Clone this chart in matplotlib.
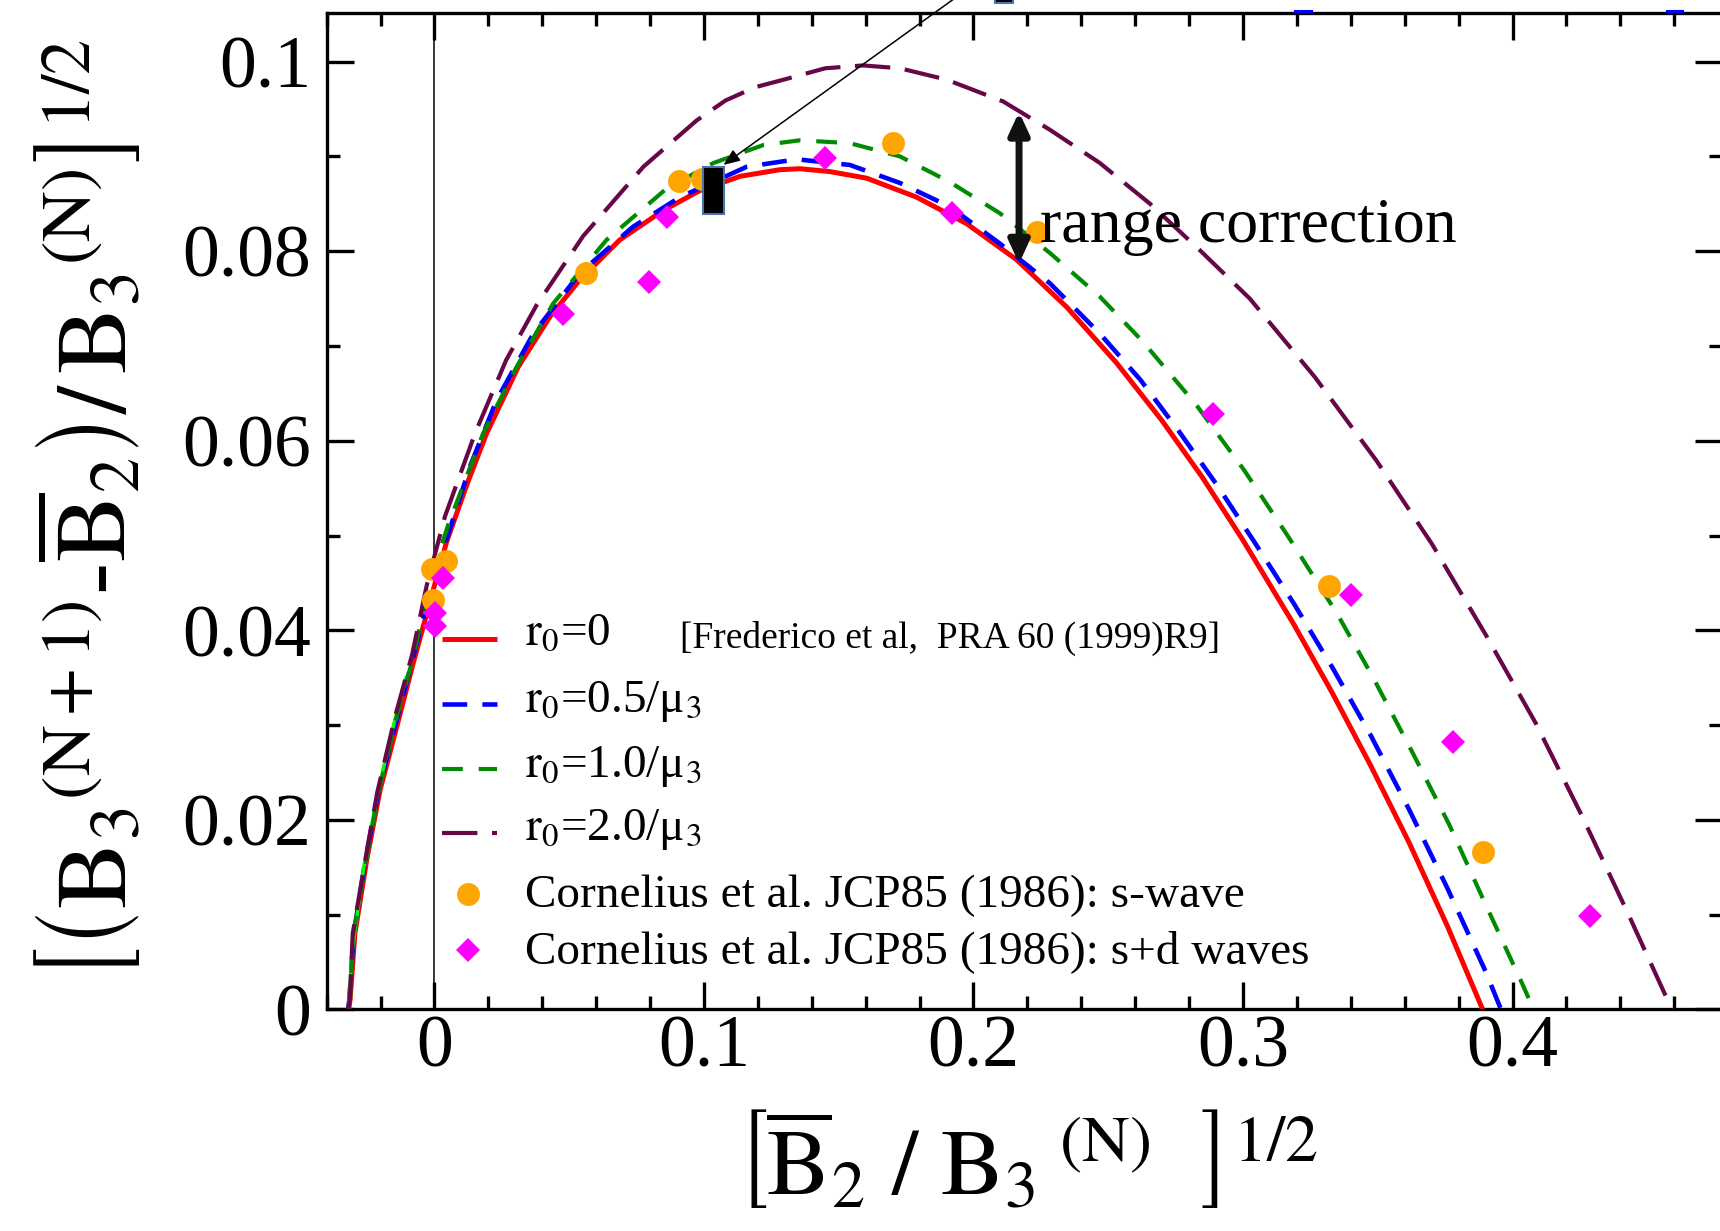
import numpy as np
import matplotlib
matplotlib.use('Agg')
from matplotlib import pyplot as plt
from matplotlib.patches import Rectangle, FancyArrowPatch
from matplotlib.lines import Line2D
from matplotlib.ticker import MultipleLocator, FixedLocator, FixedFormatter

plt.rcParams['font.family'] = ['Liberation Serif', 'DejaVu Serif']
plt.rcParams['mathtext.fontset'] = 'stix'

# r0 = 0 (zero range)
x_r00 = [-0.0318, -0.0313, -0.0295, -0.0251, -0.0202, -0.0140, -0.0079, -0.0005, 0.0046,
         0.0122, 0.0194, 0.0311, 0.0429, 0.0540, 0.0688, 0.0849, 0.0985, 0.1134, 0.1282,
         0.1356, 0.1467, 0.1604, 0.1789, 0.1975, 0.2160, 0.2346, 0.2531, 0.2700, 0.2850,
         0.3000, 0.3189, 0.3331, 0.3474, 0.3616, 0.3758, 0.3889]
y_r00 = [0.0, 0.0010, 0.0080, 0.0158, 0.0231, 0.0298, 0.0365, 0.0442, 0.0494,
         0.0555, 0.0608, 0.0678, 0.0731, 0.0770, 0.0812, 0.0843, 0.0864, 0.0879, 0.0886,
         0.0887, 0.0884, 0.0877, 0.0857, 0.0829, 0.0791, 0.0741, 0.0682, 0.0621, 0.0561,
         0.0495, 0.0406, 0.0334, 0.0257, 0.0176, 0.0088, 0.0]

# r0 = 0.5/mu3
x_r05 = [-0.0320, -0.0316, -0.0299, -0.0256, -0.0207, -0.0145, -0.0083, -0.0012, 0.0052,
         0.0132, 0.0231, 0.0367, 0.0540, 0.0738, 0.0911, 0.1158, 0.1344, 0.1541, 0.1727,
         0.1912, 0.2098, 0.2284, 0.2469, 0.2620, 0.2762, 0.2904, 0.3047, 0.3189, 0.3331,
         0.3474, 0.3616, 0.3758, 0.3900, 0.3957]
y_r05 = [0.0, 0.0010, 0.0080, 0.0158, 0.0231, 0.0300, 0.0367, 0.0445, 0.0502,
         0.0573, 0.0643, 0.0713, 0.0777, 0.0826, 0.0857, 0.0889, 0.0897, 0.0891, 0.0872,
         0.0847, 0.0808, 0.0766, 0.0713, 0.0664, 0.0610, 0.0553, 0.0491, 0.0428, 0.0361,
         0.0289, 0.0211, 0.0128, 0.0040, 0.0]

# r0 = 1.0/mu3
x_r10 = [-0.0319, -0.0313, -0.0301, -0.0257, -0.0208, -0.0140, -0.0078, -0.0023, 0.0052,
         0.0181, 0.0305, 0.0441, 0.0639, 0.0861, 0.1035, 0.1220, 0.1356, 0.1541, 0.1727,
         0.1912, 0.2098, 0.2284, 0.2469, 0.2627, 0.2826, 0.3004, 0.3172, 0.3348, 0.3481,
         0.3627, 0.3765, 0.3893, 0.4036, 0.4078]
y_r10 = [0.0, 0.0010, 0.0080, 0.0151, 0.0228, 0.0309, 0.0372, 0.0446, 0.0512,
         0.0608, 0.0678, 0.0745, 0.0812, 0.0866, 0.0893, 0.0912, 0.0917, 0.0914, 0.0900,
         0.0873, 0.0840, 0.0798, 0.0752, 0.0705, 0.0638, 0.0569, 0.0497, 0.0418, 0.0351,
         0.0272, 0.0195, 0.0115, 0.0027, 0.0]

# r0 = 2.0/mu3
x_r20 = [-0.0320, -0.0314, -0.0303, -0.0260, -0.0212, -0.0145, -0.0083, -0.0028, 0.0039,
         0.0151, 0.0266, 0.0379, 0.0552, 0.0775, 0.0973, 0.1080, 0.1190, 0.1309, 0.1450,
         0.1590, 0.1727, 0.1900, 0.2110, 0.2284, 0.2469, 0.2655, 0.2840, 0.3025, 0.3267,
         0.3495, 0.3701, 0.3901, 0.4086, 0.4256, 0.4427, 0.4591]
y_r20 = [0.0, 0.0010, 0.0080, 0.0152, 0.0229, 0.0310, 0.0374, 0.0448, 0.0520,
         0.0608, 0.0685, 0.0743, 0.0816, 0.0889, 0.0938, 0.0959, 0.0973, 0.0982, 0.0993,
         0.0996, 0.0993, 0.0981, 0.0958, 0.0928, 0.0893, 0.0850, 0.0801, 0.0750, 0.0667,
         0.0579, 0.0491, 0.0395, 0.0302, 0.0205, 0.0102, 0.0]

# short light-green piece near the origin
x_lime = [-0.0319, -0.0306, -0.0262, -0.0213, -0.0150, -0.0105]
y_lime = [0.0, 0.0060, 0.0150, 0.0225, 0.0302, 0.0350]

# Cornelius et al. JCP85 (1986)
x_swave = [-0.0010, 0.0042, -0.0004, 0.0563, 0.0909, 0.0991, 0.1702, 0.2234, 0.3320, 0.3889]
y_swave = [0.0465, 0.0473, 0.0432, 0.0777, 0.0874, 0.0876, 0.0914, 0.0820, 0.0447, 0.0166]
x_sdwave = [0.0033, 0.0002, 0.0002, 0.0476, 0.0797, 0.0862, 0.1449, 0.1919, 0.2890,
            0.3402, 0.3780, 0.4288]
y_sdwave = [0.0455, 0.0418, 0.0405, 0.0734, 0.0767, 0.0836, 0.0898, 0.0840, 0.0628,
            0.0437, 0.0282, 0.0099]

xtick_vals = [0, 0.1, 0.2, 0.3, 0.4]
xtick_labels = ['0', '0.1', '0.2', '0.3', '0.4']
ytick_vals = [0, 0.02, 0.04, 0.06, 0.08, 0.1]
ytick_labels = ['0', '0.02', '0.04', '0.06', '0.08', '0.1']

c_red = '#ff0000'
c_blue = '#0000ff'
c_green = '#008b00'
c_maroon = '#670748'
c_lime = '#00ff00'
c_orange = '#ffa500'
c_magenta = '#ff00ff'

sty_red = dict(color=c_red, lw=3.6, solid_capstyle='butt')
sty_blue = dict(color=c_blue, lw=3.3, dashes=(5.4, 3.3))
sty_green = dict(color=c_green, lw=3.0, dashes=(5.0, 3.8))
sty_maroon = dict(color=c_maroon, lw=3.0, dashes=(8.5, 3.5))

W, H = 1720, 1231
fig = plt.figure(figsize=(W / 100, H / 100), dpi=100)
ax = fig.add_axes([326.6 / W, 1 - 1009.4 / H, (1722 - 326.6) / W, (1009.4 - 13.3) / H])
ax.set_xlim(-0.04, 0.4777)
ax.set_ylim(0, 0.1051)

ax.axvline(0, color='k', lw=1.1, zorder=1)

ax.plot(x_r00, y_r00, zorder=3, **sty_red)
ax.plot(x_r05, y_r05, zorder=3, **sty_blue)
ax.plot(x_lime, y_lime, color=c_lime, lw=2.5, zorder=3)
ax.plot(x_r10, y_r10, zorder=3, **sty_green)
ax.plot(x_r20, y_r20, zorder=3, **sty_maroon)

ax.plot(x_swave, y_swave, 'o', color=c_orange, ms=16.5, mew=0, zorder=4)
ax.plot(x_sdwave, y_sdwave, 'D', color=c_magenta, ms=12.5, mew=0, zorder=4)

# marker box and pointer
ax.add_patch(Rectangle((0.0998, 0.0839), 0.0076, 0.0050, facecolor='k',
                       edgecolor='#4a72b0', lw=1.5, zorder=6))
ax.annotate('', xy=(0.1072, 0.0891), xytext=(969, H + 12), textcoords='figure pixels',
            arrowprops=dict(arrowstyle='-|>,head_length=10,head_width=4', mutation_scale=1,
                            lw=1.1, color='k', shrinkA=0, shrinkB=0),
            annotation_clip=False, zorder=7)

# range correction arrow
ax.add_patch(FancyArrowPatch((0.2169, 0.0787), (0.2169, 0.0947),
                             arrowstyle='<|-|>,head_length=13,head_width=6', mutation_scale=1,
                             lw=5, color='#111111', shrinkA=0, shrinkB=0, zorder=7))
ax.text(0.2246, 0.0810, 'range correction', fontsize=46, va='baseline', ha='left', zorder=8)

# legend
leg_x0, leg_x1, leg_xm, leg_xt = 0.0028, 0.0232, 0.0125, 0.0336
ax.plot([leg_x0, leg_x1], [0.03905] * 2, **sty_red)
ax.plot([leg_x0, leg_x1], [0.03222] * 2, **sty_blue)
ax.plot([leg_x0, leg_x1], [0.02533] * 2, **sty_green)
ax.plot([leg_x0, leg_x1], [0.01858] * 2, **sty_maroon)
ax.plot([leg_xm], [0.01214], 'o', color=c_orange, ms=16.5, mew=0)
ax.plot([leg_xm], [0.00627], 'D', color=c_magenta, ms=12.5, mew=0)
fs_leg = 34
ax.text(leg_xt, 0.03845, r'$\mathrm{r}_0$=0', fontsize=fs_leg, va='baseline')
ax.text(leg_xt, 0.03141, r'$\mathrm{r}_0$=0.5/μ$_3$', fontsize=fs_leg, va='baseline')
ax.text(leg_xt, 0.02455, r'$\mathrm{r}_0$=1.0/μ$_3$', fontsize=fs_leg, va='baseline')
ax.text(leg_xt, 0.01787, r'$\mathrm{r}_0$=2.0/μ$_3$', fontsize=fs_leg, va='baseline')
ax.text(leg_xt, 0.01084, 'Cornelius et al. JCP85 (1986): s-wave', fontsize=fs_leg, va='baseline')
ax.text(leg_xt, 0.00490, 'Cornelius et al. JCP85 (1986): s+d waves', fontsize=fs_leg, va='baseline')
ax.text(0.0911, 0.0381, '[Frederico et al,  PRA 60 (1999)R9]', fontsize=27, va='baseline')

# axes styling
for s in ax.spines.values():
    s.set_linewidth(2.4)
ax.xaxis.set_major_locator(FixedLocator(xtick_vals))
ax.xaxis.set_major_formatter(FixedFormatter(xtick_labels))
ax.yaxis.set_major_locator(FixedLocator(ytick_vals))
ax.yaxis.set_major_formatter(FixedFormatter(ytick_labels))
ax.xaxis.set_minor_locator(MultipleLocator(0.02))
ax.yaxis.set_minor_locator(MultipleLocator(0.01))
ax.tick_params(which='both', direction='in', top=True, right=True, width=2.4)
ax.tick_params(which='major', length=19.4, labelsize=53)
ax.tick_params(which='minor', length=9.4)
ax.tick_params(axis='x', which='major', pad=4)
ax.tick_params(axis='y', which='major', pad=11)

fig.text(1027 / W, 1 - 1163 / H,
         r'$\left[\overline{\mathrm{B}}_2\ /\ \mathrm{B}_3{}^{\ \mathrm{(N)}}\ \ \right]^{1/2}$',
         fontsize=68, ha='center', va='center')
fig.text(92 / W, 1 - 510 / H,
         '$\\left[\\left(\\mathrm{B}_3{}^{\\mathrm{(N+1)}}\u2010\\overline{\\mathrm{B}}_2\\right)'
         '/\\,\\mathrm{B}_3{}^{\\mathrm{(N)}}\\right]^{1/2}$',
         fontsize=72, ha='center', va='center', rotation=90)

# bits of the panel above that poke into view
fig.add_artist(Line2D([1295 / W, 1311 / W], [1 - 10.5 / H] * 2, color=c_blue, lw=2.2))
fig.add_artist(Line2D([1667 / W, 1682 / W], [1 - 10.5 / H] * 2, color=c_blue, lw=2.2))
fig.add_artist(Rectangle((995 / W, 1 - 3 / H), 18 / W, 6 / H, facecolor='k',
                         edgecolor='#4a72b0', lw=1.5))

fig.savefig('out.png', dpi=100)
